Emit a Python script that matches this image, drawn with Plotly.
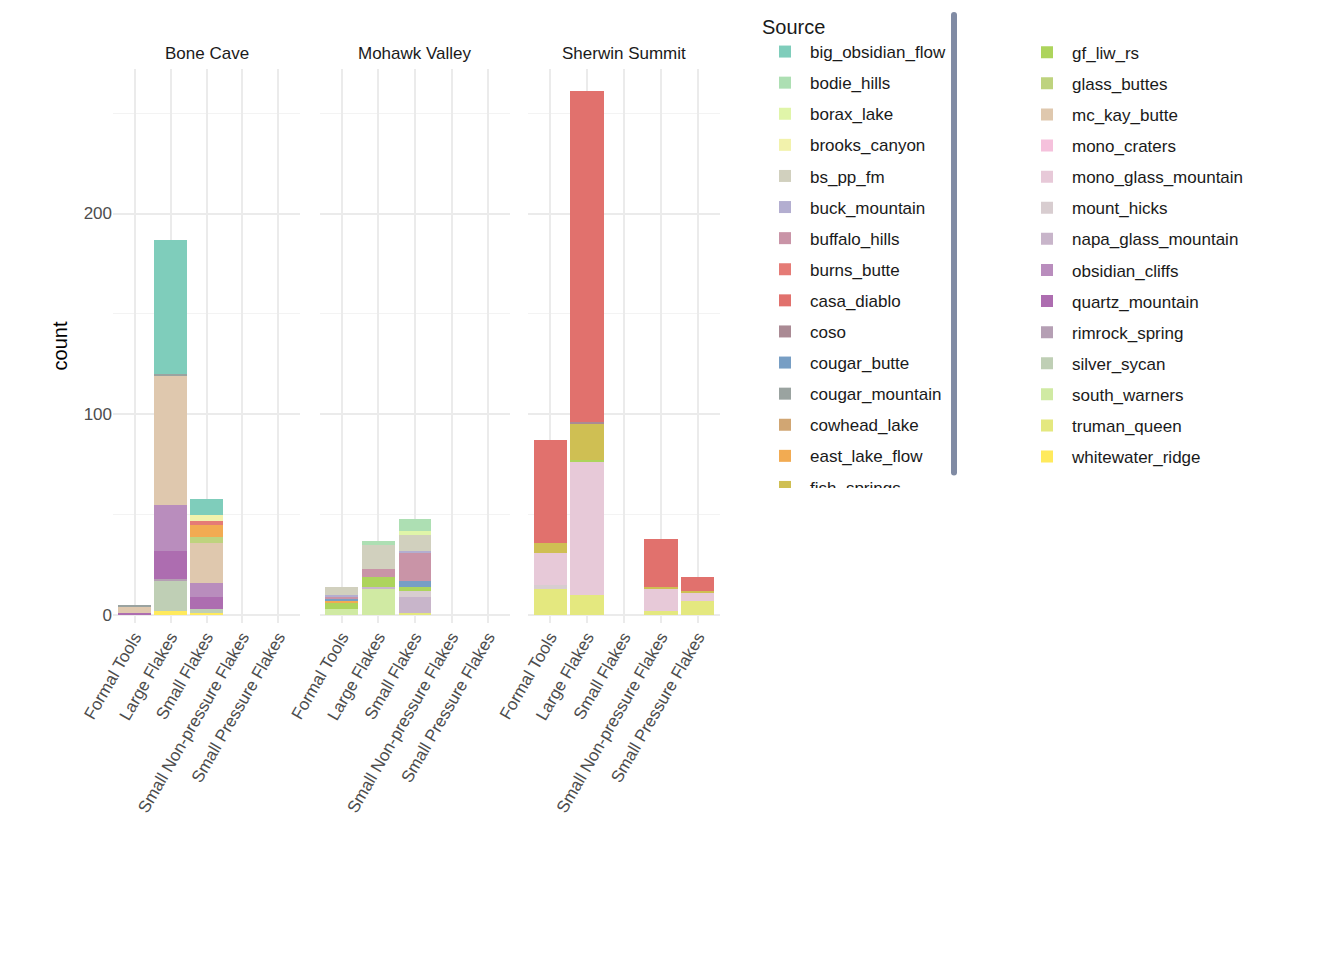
import plotly.graph_objects as go
from plotly.subplots import make_subplots

sites = ["Bone Cave", "Mohawk Valley", "Sherwin Summit"]
artifact_types = ["Formal Tools", "Large Flakes", "Small Flakes",
                  "Small Non-pressure Flakes", "Small Pressure Flakes"]

sources = ["big_obsidian_flow", "bodie_hills", "borax_lake", "brooks_canyon", "bs_pp_fm",
           "buck_mountain", "buffalo_hills", "burns_butte", "casa_diablo", "coso",
           "cougar_butte", "cougar_mountain", "cowhead_lake", "east_lake_flow", "fish_springs",
           "gf_liw_rs", "glass_buttes", "mc_kay_butte", "mono_craters", "mono_glass_mountain",
           "mount_hicks", "napa_glass_mountain", "obsidian_cliffs", "quartz_mountain",
           "rimrock_spring", "silver_sycan", "south_warners", "truman_queen", "whitewater_ridge"]

colors = ["#7FCDBB", "#ADDFB3", "#E0F5A9", "#F2F2AC", "#D1D0BE",
          "#B3AED0", "#C994A7", "#E57B76", "#E1716D", "#AA8A94",
          "#779EC4", "#9AA3A0", "#D1A673", "#F2AB52", "#CFBF53",
          "#ADD45C", "#BED37E", "#DFC8AE", "#F5C1DC", "#E7C9D8",
          "#D8CDD0", "#C8B5CA", "#B98DBD", "#AD6DB0",
          "#B59FB4", "#BFCFB5", "#D0EAA3", "#E4E87F", "#FFEA5D"]

# counts per source, order of artifact_types
bone_cave = {
    "big_obsidian_flow": [0, 67, 8, 0, 0],
    "brooks_canyon": [0, 0, 3, 0, 0],
    "burns_butte": [0, 0, 2, 0, 0],
    "east_lake_flow": [0, 0, 6, 0, 0],
    "glass_buttes": [0, 0, 3, 0, 0],
    "cougar_mountain": [1, 1, 0, 0, 0],
    "mc_kay_butte": [3, 64, 20, 0, 0],
    "obsidian_cliffs": [0, 23, 7, 0, 0],
    "rimrock_spring": [0, 1, 0, 0, 0],
    "quartz_mountain": [1, 14, 6, 0, 0],
    "silver_sycan": [0, 15, 2, 0, 0],
    "whitewater_ridge": [0, 2, 1, 0, 0],
}
mohawk_valley = {
    "bodie_hills": [0, 2, 6, 0, 0],
    "borax_lake": [0, 0, 2, 0, 0],
    "bs_pp_fm": [4, 12, 8, 0, 0],
    "buck_mountain": [1, 0, 1, 0, 0],
    "buffalo_hills": [1, 4, 14, 0, 0],
    "cougar_butte": [1, 0, 3, 0, 0],
    "east_lake_flow": [1, 0, 0, 0, 0],
    "gf_liw_rs": [3, 5, 2, 0, 0],
    "mount_hicks": [0, 0, 3, 0, 0],
    "napa_glass_mountain": [0, 1, 8, 0, 0],
    "south_warners": [3, 13, 0, 0, 0],
    "truman_queen": [0, 0, 1, 0, 0],
}
sherwin_summit = {
    "gf_liw_rs": [0, 1, 0, 0, 0],
    "casa_diablo": [51, 165, 0, 24, 7],
    "coso": [0, 1, 0, 0, 0],
    "fish_springs": [5, 18, 0, 1, 1],
    "mono_glass_mountain": [16, 66, 0, 11, 4],
    "mount_hicks": [2, 0, 0, 0, 0],
    "truman_queen": [13, 10, 0, 2, 7],
}
site_counts = [bone_cave, mohawk_valley, sherwin_summit]

W, H = 1344, 960
fig = make_subplots(rows=1, cols=3, shared_yaxes=True)

# ggplot stacks the first level on top -> add in reverse
for i in reversed(range(len(sources))):
    s = sources[i]
    for c in range(3):
        vals = site_counts[c].get(s, [0] * 5)
        fig.add_trace(go.Bar(
            x=artifact_types, y=vals, name=s, marker_color=colors[i],
            marker_line_width=0, showlegend=(c == 0),
            legend="legend" if i < 15 else "legend2",
            legendgroup=s, legendrank=i,
        ), row=1, col=c + 1)

domains = [(105, 292), (312, 502), (520, 712)]
for c, (a, b) in enumerate(domains):
    ax = "xaxis" if c == 0 else "xaxis%d" % (c + 1)
    fig.layout[ax].update(domain=[a / W, b / W], categoryorder="array",
                          categoryarray=artifact_types, tickangle=-60,
                          showgrid=True, gridcolor="#EBEBEB", gridwidth=2,
                          tickfont=dict(size=17, color="#4D4D4D"), automargin=False,
                          ticks="", range=[-0.6, 4.6])
    fig.add_annotation(text=sites[c], x=(a + b) / 2 / W, y=1.0, xref="paper", yref="paper",
                       xanchor="center", yanchor="bottom", yshift=4, showarrow=False,
                       font=dict(size=17, color="#1A1A1A"))
    ay = "yaxis" if c == 0 else "yaxis%d" % (c + 1)
    fig.layout[ay].update(range=[-4, 272], tickvals=[0, 100, 200], showgrid=True,
                          gridcolor="#EBEBEB", gridwidth=2, zeroline=False,
                          minor=dict(tickvals=[50, 150, 250], showgrid=True,
                                     gridcolor="#F3F3F3", gridwidth=1),
                          tickfont=dict(size=17, color="#4D4D4D"), automargin=False)
fig.layout.yaxis.title = dict(text="count", font=dict(size=20, color="#000"), standoff=10)

leg = dict(font=dict(size=17, color="#1A1A1A"), yanchor="top", xanchor="left",
           tracegroupgap=6, itemwidth=40, bgcolor="rgba(0,0,0,0)")
fig.update_layout(
    width=W, height=H, barmode="stack", bargap=0.1,
    plot_bgcolor="white", paper_bgcolor="white",
    font=dict(family="Liberation Sans, Arial, sans-serif"),
    margin=dict(l=0, r=0, t=60, b=345),
    legend=dict(leg, x=752 / W, y=1.11, title=dict(text="Source", font=dict(size=20))),
    legend2=dict(leg, x=1014 / W, y=1.06),
)

fig.write_html("out.html")
